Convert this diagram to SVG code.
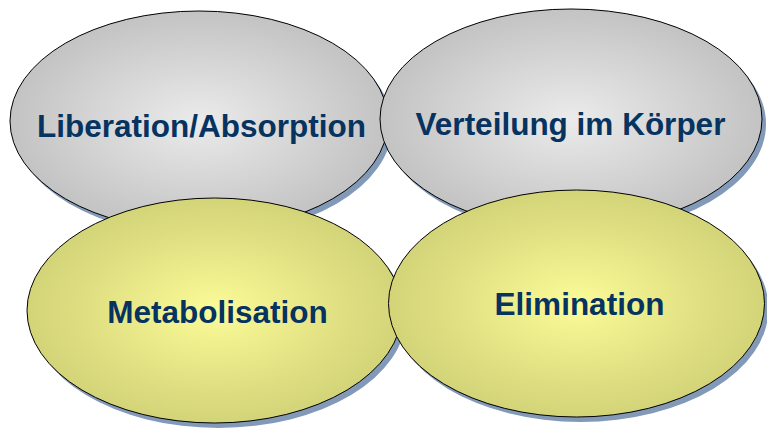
<svg xmlns="http://www.w3.org/2000/svg" width="767" height="428" viewBox="0 0 767 428">
  <defs>
    <radialGradient id="gGray" cx="0.5" cy="0.5" r="0.5">
      <stop offset="0" stop-color="#ebebeb"/>
      <stop offset="1" stop-color="#c3c3c3"/>
    </radialGradient>
    <radialGradient id="gYellow" cx="0.5" cy="0.5" r="0.5">
      <stop offset="0" stop-color="#fbfb98"/>
      <stop offset="1" stop-color="#d3d378"/>
    </radialGradient>
  </defs>
  <style>
    .shadow { fill: #8399b8; }
    .gray { fill: url(#gGray); stroke: #000; stroke-width: 1; }
    .yellow { fill: url(#gYellow); stroke: #000; stroke-width: 1; }
    .label { font-family: "Liberation Sans", Arial, sans-serif; font-weight: bold; font-size: 31.5px; fill: #06335f; text-anchor: middle; }
  </style>
  <g id="liberation">
    <ellipse class="shadow" cx="203" cy="126" rx="189" ry="110"/>
    <ellipse class="gray" cx="199" cy="121" rx="189" ry="110"/>
    <text class="label" x="201.5" y="137">Liberation/Absorption</text>
  </g>
  <g id="verteilung">
    <ellipse class="shadow" cx="575" cy="124" rx="191" ry="110"/>
    <ellipse class="gray" cx="571" cy="119" rx="191" ry="110"/>
    <text class="label" x="570.5" y="135">Verteilung im Körper</text>
  </g>
  <g id="metabolisation">
    <ellipse class="shadow" cx="218.5" cy="315.5" rx="187.5" ry="112.5"/>
    <ellipse class="yellow" cx="214.5" cy="310.5" rx="187.5" ry="112.5"/>
    <text class="label" x="217.5" y="323">Metabolisation</text>
  </g>
  <g id="elimination">
    <ellipse class="shadow" cx="580.5" cy="308.5" rx="188" ry="113.5"/>
    <ellipse class="yellow" cx="576.5" cy="303.5" rx="188" ry="113.5"/>
    <text class="label" x="579.5" y="315">Elimination</text>
  </g>
  <g id="connectors"/>
</svg>
